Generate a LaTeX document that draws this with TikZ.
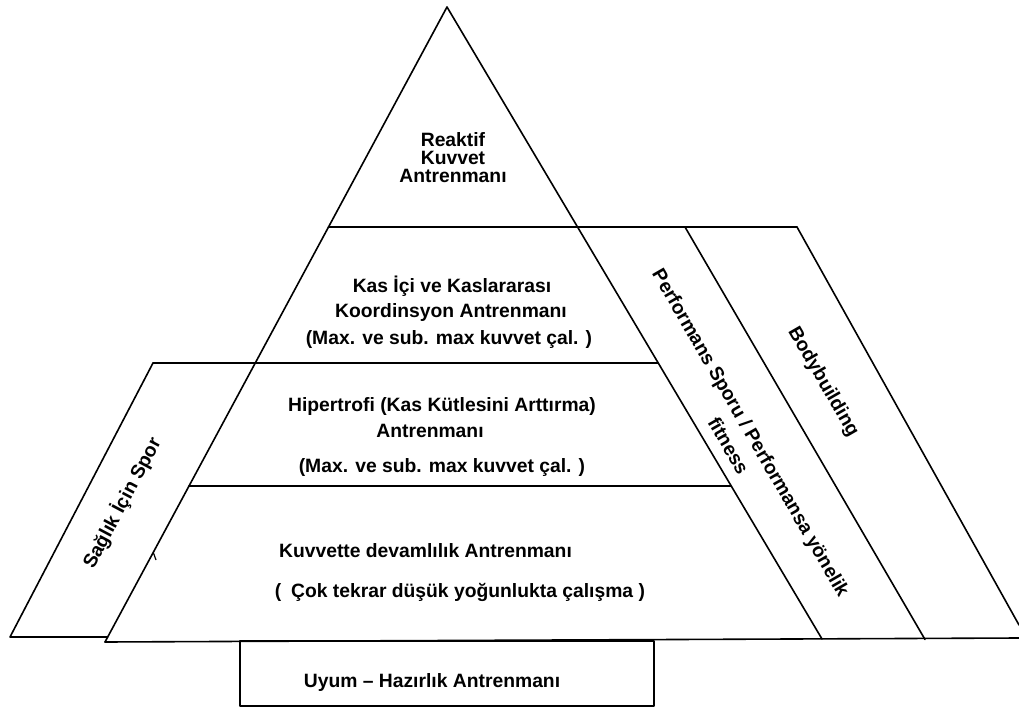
\documentclass[tikz,border=0pt]{standalone}
\usepackage{fontspec}
\setmainfont{Liberation Sans}
\begin{document}
\begin{tikzpicture}[x=1pt,y=-1pt,
  edge/.style={line width=1.6pt, line cap=round, line join=round},
  lbl/.style={font=\bfseries\fontsize{19.3}{22}\selectfont, inner sep=0pt, anchor=base},
  rlbl/.style={font=\bfseries\fontsize{19.3}{26}\selectfont, inner sep=0pt, anchor=center}]
\useasboundingbox (0,0) rectangle (1019,708);

% pyramid outline
\coordinate (apex) at (447,7);
\coordinate (bl) at (105,642);
\coordinate (br) at (822,639);
\coordinate (bend) at (1019,638);
\draw[edge] (bl) -- (apex) -- (br);
\draw[edge] (bl) -- (bend);

% layer boundaries
\coordinate (h1l) at (328.5,227);
\coordinate (h1r) at (797,227);
\coordinate (sa) at (153,363);
\coordinate (h2r) at (658,363);
\coordinate (h3l) at (189,486);
\coordinate (h3r) at (731,486);
\draw[edge] (h1l) -- (h1r);
\draw[edge] (sa) -- (h2r);
\draw[edge] (h3l) -- (h3r);

% left band (health sport)
\coordinate (sb) at (10,637);
\coordinate (sc) at (107.7,637);
\draw[edge] (sa) -- (sb) -- (sc);
\coordinate (tk1) at (153.5,553);
\coordinate (tk2) at (156,560);
\draw[line width=1.2pt] (tk1) -- (tk2);

% right bands
\coordinate (p2t) at (685,227);
\coordinate (p2b) at (925,639.5);
\coordinate (p3b) at (1019,625);
\draw[edge] (p2t) -- (p2b);
\draw[edge] (h1r) -- (p3b);

% base box
\coordinate (u1) at (240,641);
\coordinate (u2) at (654,706);
\draw[edge] (u1) rectangle (u2);

% layer texts
\node[lbl] (r1) at (453,147) {Reaktif};
\node[lbl] (r2) at (453,165) {Kuvvet};
\node[lbl] (r3) at (453,183) {Antrenmanı};
\node[lbl] (k1) at (452,293) {Kas İçi ve Kaslararası};
\node[lbl] (k2) at (451,317) {Koordinsyon Antrenmanı};
\node[lbl] (k3) at (449,344.5) {(Max. ve sub. max kuvvet çal. )};
\node[lbl] (hp1) at (442,411) {Hipertrofi (Kas Kütlesini Arttırma)};
\node[lbl] (hp2) at (430,437) {Antrenmanı};
\node[lbl] (hp3) at (442,472) {(Max. ve sub. max kuvvet çal. )};
\node[lbl] (d1) at (425.5,557.5) {Kuvvette devamlılık Antrenmanı};
\node[lbl] (d2) at (460,597.5) {(\hspace{0.5em}Çok tekrar düşük yoğunlukta çalışma )};
\node[lbl] (uy) at (432,687) {Uyum – Hazırlık Antrenmanı};

% band texts
\node[rlbl, rotate=62] (saglik) at (122,503) {Sağlık İçin Spor};
\node[rlbl, rotate=-60, align=center] (perf) at (740,439) {Performans Sporu / Performansa yönelik\\fitness};
\node[rlbl, rotate=-60] (body) at (823,382) {Bodybuilding};
\end{tikzpicture}
\end{document}
